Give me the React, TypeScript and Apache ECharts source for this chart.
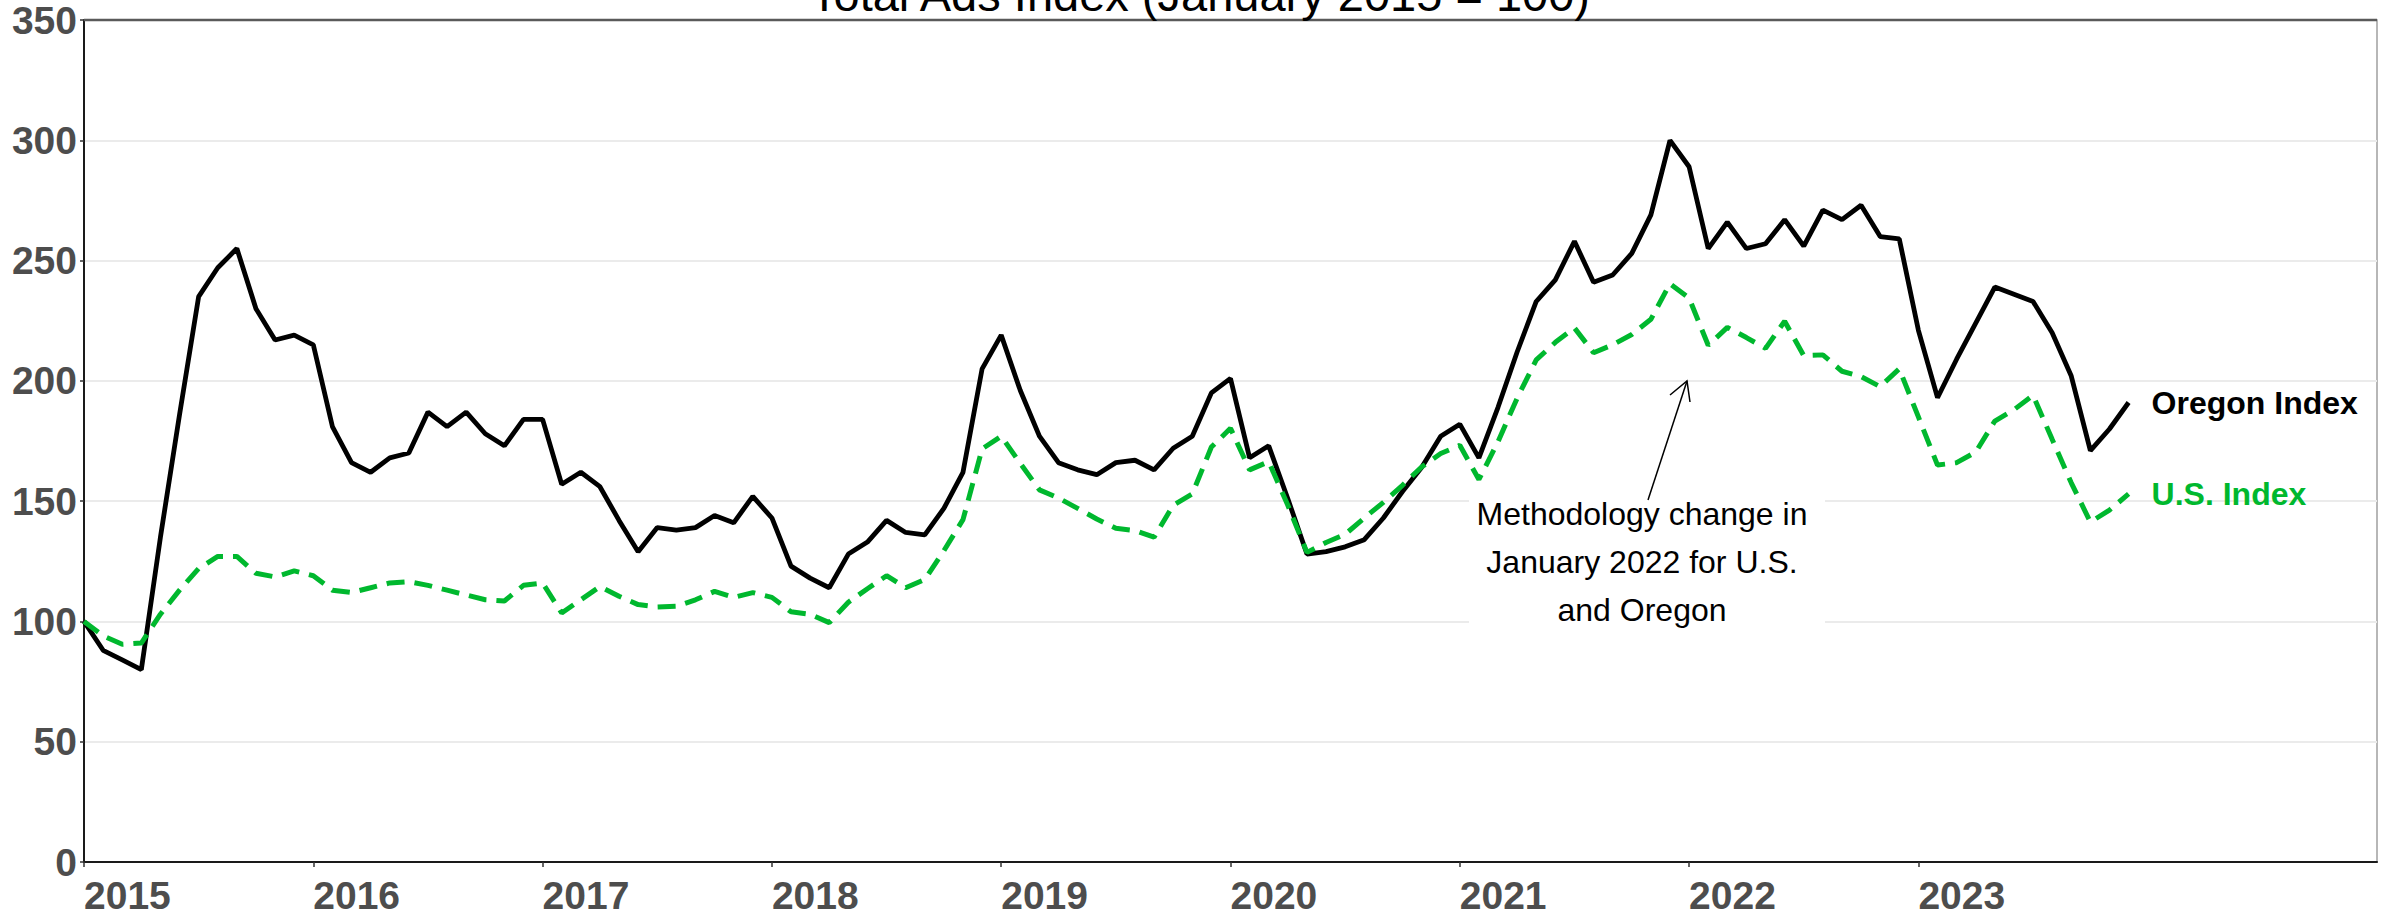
import React, { useEffect, useRef } from "react";
import * as echarts from "echarts";

// ---- data (monthly, January 2015 = 100) ----
const YEARS = [2015, 2016, 2017, 2018, 2019, 2020, 2021, 2022, 2023, 2024];
const LABELLED_YEARS = [2015, 2016, 2017, 2018, 2019, 2020, 2021, 2022, 2023];

const OREGON_INDEX = [
  100, 88, 84, 80, 135, 186, 235, 247, 255, 230, 217, 219,
  215, 181, 166, 162, 168, 170, 187, 181, 187, 178, 173, 184,
  184, 157, 162, 156, 142, 129, 139, 138, 139, 144, 141, 152,
  143, 123, 118, 114, 128, 133, 142, 137, 136, 147, 162, 205,
  219, 196, 177, 166, 163, 161, 166, 167, 163, 172, 177, 195,
  201, 168, 173, 151, 128, 129, 131, 134, 143, 154, 164, 177,
  182, 168, 189, 212, 233, 242, 258, 241, 244, 253, 269, 300,
  289, 255, 266, 255, 257, 267, 256, 271, 267, 273, 260, 259,
  221, 193, 209, 224, 239, 236, 233, 220, 202, 171, 180, 191,
];

const US_INDEX = [
  100, 94, 90.5, 91, 103, 113, 122, 127, 127, 120, 118.5, 121,
  119, 113, 112, 114, 116, 116.5, 115, 113, 111, 109, 108.5, 115,
  116, 103.5, 109, 114.5, 110.5, 107, 106, 106.3, 109, 112.5, 110, 112,
  110, 104, 103, 99.5, 108, 113.6, 119, 114, 117.4, 129.4, 142.3, 171.7,
  177, 165.7, 154.7, 151.3, 147, 142.6, 138.7, 137.8, 135, 148.3, 153, 172.5,
  180.3, 163, 166.4, 148.3, 128.7, 132.8, 136.2, 143, 149.5, 156.6, 164.2, 169.8,
  173.2, 159, 174.7, 192.8, 208.7, 216, 222, 211.7, 215, 219.3, 225.6, 240.4,
  234.4, 214.8, 222.2, 218, 213.5, 224.8, 210.5, 210.8, 204, 201.8, 197.6, 205,
  185, 165, 166, 170.4, 183.3, 188, 194, 175.7, 157.6, 141.3, 146.3, 153,
];

const Y_TICKS = [0, 50, 100, 150, 200, 250, 300, 350];

const TITLE = "Total Ads Index (January 2015 = 100)";
const NOTE = "Methodology change in\nJanuary 2022 for U.S.\nand Oregon";
const OREGON_NAME = "Oregon Index";
const US_NAME = "U.S. Index";

// month categories: Jan 2015 ... Jan 2025
const MONTHS: string[] = [];
YEARS.forEach((y) => {
  for (let m = 1; m <= 12; m++) MONTHS.push(`${y}-${String(m).padStart(2, "0")}`);
});
MONTHS.push(`${YEARS[YEARS.length - 1] + 1}-01`);

const FONT = "'Liberation Sans', Arial, Helvetica, sans-serif";
const GREEN = "#00b82e";

export default function App() {
  const ref = useRef<HTMLDivElement>(null);

  useEffect(() => {
    document.body.style.margin = "0";
    if (!ref.current) return;
    const chart = echarts.init(ref.current, null, { renderer: "svg" });

    const isYearStart = (i: number) => {
      const cat = MONTHS[i];
      if (!cat) return false;
      const [y, m] = cat.split("-");
      return m === "01" && LABELLED_YEARS.includes(Number(y));
    };

    chart.setOption({
      animation: false,
      backgroundColor: "#ffffff",
      textStyle: { fontFamily: FONT },
      grid: {
        left: 84,
        right: 20,
        top: 20,
        bottom: 56,
        show: true,
        borderColor: "#a0a0a0",
        borderWidth: 1.5,
        backgroundColor: "transparent",
      },
      xAxis: {
        type: "category",
        data: MONTHS,
        boundaryGap: false,
        axisLine: { show: true, lineStyle: { color: "#1a1a1a", width: 2 } },
        axisTick: {
          show: true,
          interval: (i: number) => isYearStart(i),
          length: 5,
          lineStyle: { color: "#333333", width: 1.5 },
        },
        axisLabel: {
          interval: (i: number) => isYearStart(i),
          formatter: (v: string) => v.slice(0, 4),
          align: "left",
          fontSize: 39,
          fontWeight: "bold",
          color: "#4d4d4d",
          fontFamily: FONT,
          margin: 14,
        },
        splitLine: { show: false },
      },
      yAxis: {
        type: "value",
        min: Y_TICKS[0],
        max: Y_TICKS[Y_TICKS.length - 1],
        interval: Y_TICKS[1] - Y_TICKS[0],
        axisLine: { show: true, lineStyle: { color: "#1a1a1a", width: 2 } },
        axisTick: { show: true, length: 4, lineStyle: { color: "#333333", width: 1.5 } },
        axisLabel: {
          fontSize: 39,
          fontWeight: "bold",
          color: "#4d4d4d",
          fontFamily: FONT,
          margin: 7,
        },
        splitLine: { show: true, lineStyle: { color: "#ebebeb", width: 2 } },
      },
      series: [
        {
          name: OREGON_NAME,
          type: "line",
          data: OREGON_INDEX,
          symbol: "none",
          z: 3,
          lineStyle: { color: "#000000", width: 4.8 },
          endLabel: {
            show: true,
            formatter: OREGON_NAME,
            distance: 23,
            color: "#000000",
            fontSize: 32,
            fontWeight: "bold",
            fontFamily: FONT,
          },
        },
        {
          name: US_NAME,
          type: "line",
          data: US_INDEX,
          symbol: "none",
          z: 4,
          lineStyle: { color: GREEN, width: 5, type: [18, 10] },
          endLabel: {
            show: true,
            formatter: US_NAME,
            distance: 23,
            color: GREEN,
            fontSize: 32,
            fontWeight: "bold",
            fontFamily: FONT,
          },
        },
      ],
      graphic: [
        {
          type: "rect",
          z: 1,
          shape: { x: 1469, y: 484, width: 356, height: 146 },
          style: { fill: "#ffffff" },
        },
        {
          type: "line",
          z: 10,
          shape: { x1: 84, y1: 20, x2: 2377, y2: 20 },
          style: { stroke: "#5a5a5a", lineWidth: 2.5 },
        },
        {
          type: "text",
          z: 10,
          x: 1200,
          y: -6,
          style: {
            text: TITLE,
            font: `47px ${FONT}`,
            fill: "#000000",
            align: "center",
            verticalAlign: "middle",
          },
        },
        {
          type: "text",
          z: 10,
          x: 1642,
          y: 562,
          style: {
            text: NOTE,
            font: `32px ${FONT}`,
            fill: "#000000",
            align: "center",
            verticalAlign: "middle",
            lineHeight: 48,
          },
        },
        {
          type: "line",
          z: 10,
          shape: { x1: 1648, y1: 500, x2: 1687, y2: 381 },
          style: { stroke: "#000000", lineWidth: 1.5 },
        },
        {
          type: "polyline",
          z: 10,
          shape: { points: [[1670, 395], [1687, 381], [1690, 402]] },
          style: { stroke: "#000000", lineWidth: 1.5, fill: "none" },
        },
      ],
    });

    return () => chart.dispose();
  }, []);

  return <div ref={ref} style={{ width: 2397, height: 918 }} />;
}
